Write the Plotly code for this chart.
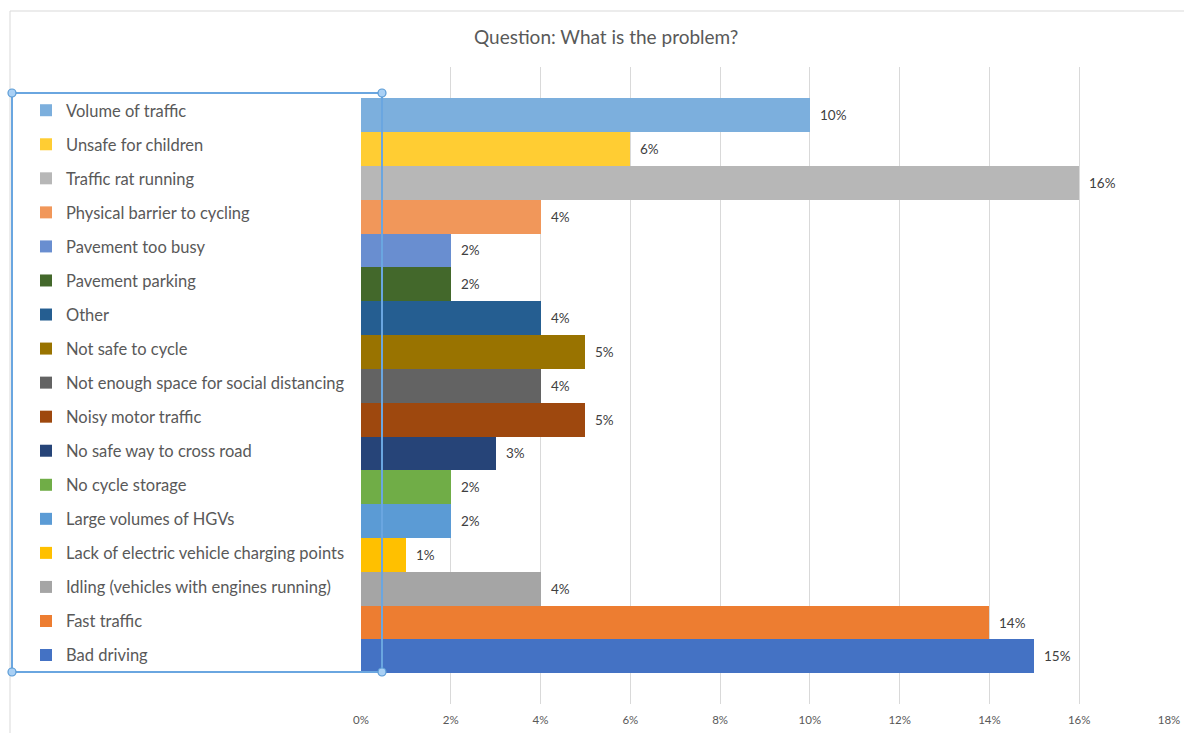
import plotly.graph_objects as go

# Survey answers, listed top to bottom as they appear in the chart
categories = [
    "Volume of traffic",
    "Unsafe for children",
    "Traffic rat running",
    "Physical barrier to cycling",
    "Pavement too busy",
    "Pavement parking",
    "Other",
    "Not safe to cycle",
    "Not enough space for social distancing",
    "Noisy motor traffic",
    "No safe way to cross road",
    "No cycle storage",
    "Large volumes of HGVs",
    "Lack of electric vehicle charging points",
    "Idling (vehicles with engines running)",
    "Fast traffic",
    "Bad driving",
]
percentages = [10, 6, 16, 4, 2, 2, 4, 5, 4, 5, 3, 2, 2, 1, 4, 14, 15]
colors = [
    "#7CAFDD", "#FFCD33", "#B7B7B7", "#F1975A", "#698ED0", "#43682B",
    "#255E91", "#997300", "#636363", "#9E480E", "#264478", "#70AD47",
    "#5B9BD5", "#FFC000", "#A5A5A5", "#ED7D31", "#4472C4",
]
tick_values = [0, 2, 4, 6, 8, 10, 12, 14, 16, 18]
tick_labels = [f"{v}%" for v in tick_values]

W, H = 1184, 733
L, R, T, B = 361, 15, 67, 29
pw, ph = W - L - R, H - T - B


def px_x(px):
    return (px - L) / pw


def px_y(py):
    return (H - B - py) / ph


FONT = "Lato"
TEXT = "#595959"

fig = go.Figure()
n = len(categories)
annotations = []
for i, (name, val, col) in enumerate(zip(categories, percentages, colors)):
    ypos = n - 1 - i
    fig.add_trace(go.Bar(
        x=[val], y=[ypos], orientation="h", width=1,
        name=name, legendgroup=name,
        marker=dict(color=col, line=dict(width=0)),
        hovertemplate=f"{name}: {val}%<extra></extra>",
    ))
    annotations.append(dict(
        x=val, y=ypos, xref="x", yref="y", text=f"{val}%",
        showarrow=False, xanchor="left", yanchor="middle", xshift=8,
        font=dict(family=FONT, size=13.5, color="#404040"),
    ))

annotations.append(dict(
    text="Question: What is the problem?", xref="paper", yref="paper",
    x=px_x(606), y=px_y(37), xanchor="center", yanchor="middle",
    showarrow=False, font=dict(family=FONT, size=19, color=TEXT),
))

shapes = [
    # chart frame
    dict(type="line", xref="paper", yref="paper", x0=px_x(10), x1=px_x(1200),
         y0=px_y(11), y1=px_y(11), line=dict(color="#D9D9D9", width=1)),
    dict(type="line", xref="paper", yref="paper", x0=px_x(10), x1=px_x(10),
         y0=px_y(11), y1=px_y(740), line=dict(color="#D9D9D9", width=1)),
    # legend selection frame
    dict(type="rect", xref="paper", yref="paper", x0=px_x(12), x1=px_x(382),
         y0=px_y(93), y1=px_y(672), line=dict(color="#6AA6E0", width=2),
         layer="above"),
]
for cx, cy in [(12, 93), (382, 93), (12, 672), (382, 672)]:
    r = 4
    shapes.append(dict(
        type="circle", xref="paper", yref="paper",
        x0=px_x(cx - r), x1=px_x(cx + r), y0=px_y(cy - r), y1=px_y(cy + r),
        fillcolor="#A9D0F5", line=dict(color="#5B9BD5", width=1.2), layer="above",
    ))

fig.update_layout(
    width=W, height=H,
    margin=dict(l=L, r=R, t=T, b=B, autoexpand=False),
    paper_bgcolor="white", plot_bgcolor="white",
    barmode="overlay", bargap=0,
    showlegend=True,
    legend=dict(
        x=px_x(26), y=px_y(93), xanchor="left", yanchor="top",
        traceorder="grouped", tracegroupgap=9.6,
        font=dict(family=FONT, size=16.5, color=TEXT),
        bgcolor="rgba(0,0,0,0)", itemclick=False, itemdoubleclick=False,
    ),
    xaxis=dict(
        range=[0, 18], tickvals=tick_values, ticktext=tick_labels,
        showgrid=True, gridcolor="#D9D9D9", gridwidth=1,
        zeroline=False, showline=False, ticks="",
        ticklabelstandoff=7,
        tickfont=dict(family=FONT, size=11.5, color=TEXT),
    ),
    yaxis=dict(
        range=[-1.408, n - 0.5 + 0.925], showticklabels=False,
        showgrid=False, zeroline=False, showline=False, ticks="",
    ),
    annotations=annotations,
    shapes=shapes,
)

fig.write_html("out.html")
